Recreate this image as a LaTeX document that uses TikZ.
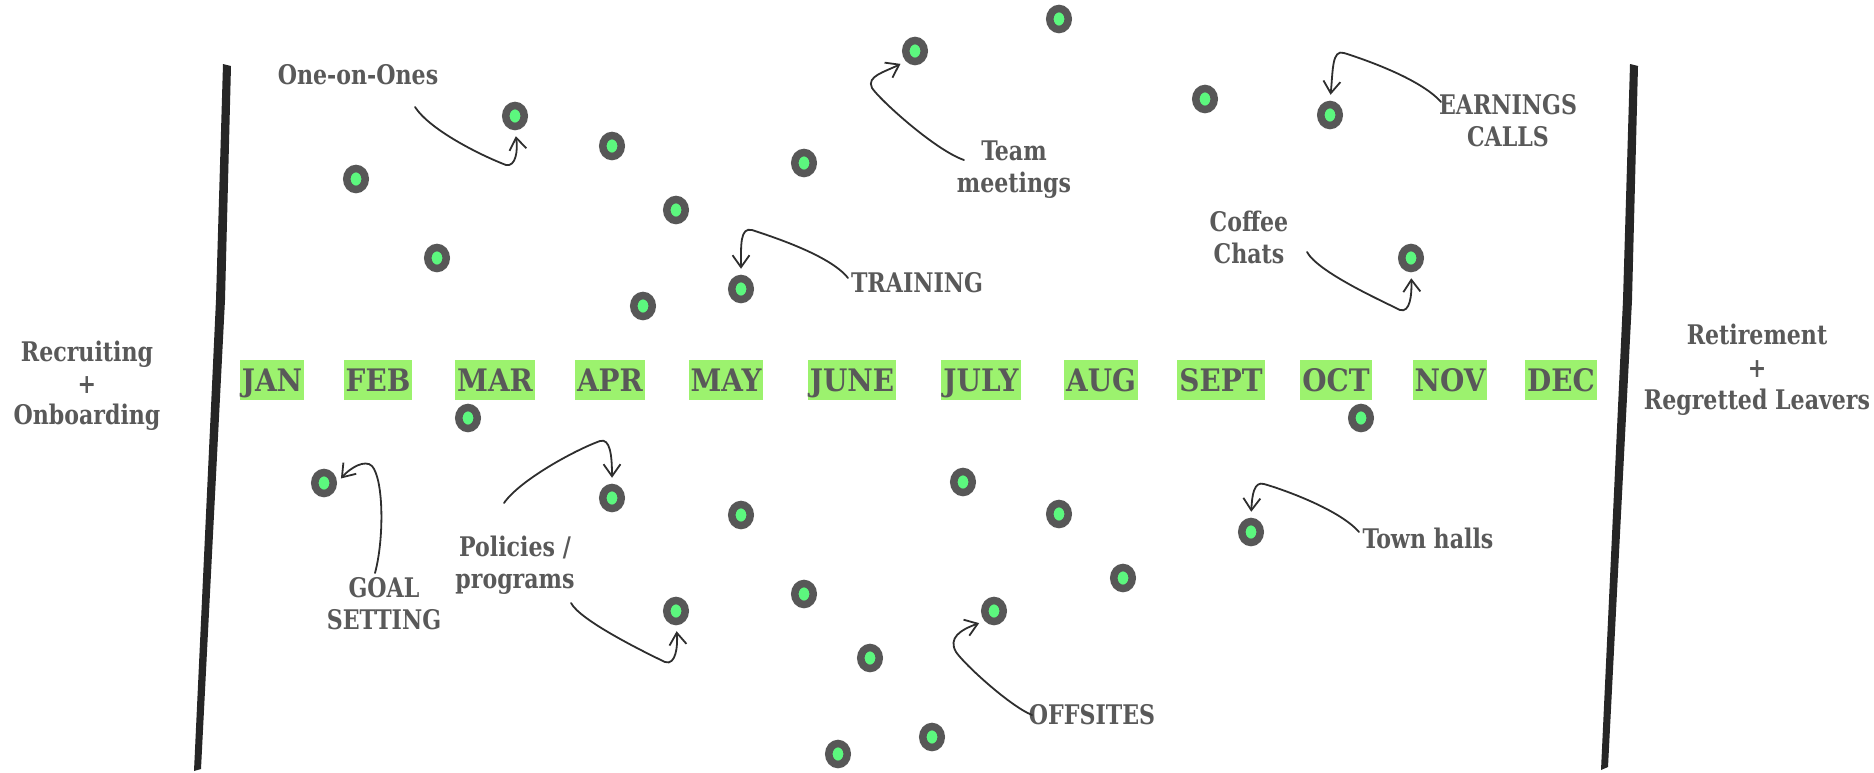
\documentclass[tikz,border=0pt]{standalone}
\usepackage{fontspec}
\newfontfamily\slabfont{DejaVu Serif Condensed Bold}
\newfontfamily\slabnarrow{DejaVu Serif Condensed Bold}[FakeStretch=0.91]
\usetikzlibrary{shapes.geometric,arrows.meta}
\definecolor{inkgray}{HTML}{595959}
\definecolor{boxgreen}{HTML}{9CF26E}
\definecolor{dotgreen}{HTML}{5CF77E}
\definecolor{ringgray}{HTML}{575757}
\definecolor{pencil}{HTML}{2E2E2E}
\tikzset{
  month/.style={fill=boxgreen, text=inkgray, font=\slabfont\fontsize{15.5}{18}\selectfont, inner xsep=1pt, inner ysep=0pt, text height=11.6pt, text depth=0pt, minimum height=20pt},
  eventdot/.style={ellipse, draw=ringgray, fill=dotgreen, line width=3.75pt, minimum width=9.25pt, minimum height=10.5pt, inner sep=0pt},
  lbl/.style={text=inkgray, font=\slabnarrow\fontsize{13.5}{16}\selectfont, align=center, inner sep=0pt},
  arrowline/.style={pencil, line width=0.9pt, line cap=round, -{Straight Barb[length=6pt,width=8.5pt]}, shorten >=3pt},
}
\begin{document}
\begin{tikzpicture}[x=0.5pt,y=-0.5pt]
\useasboundingbox (0,0) rectangle (1874,772);

% charcoal dividers
\fill[black!85] (223,64) -- (231,66) -- (225,300) -- (201,769) -- (194,771) -- (216,300) -- cycle;
\fill[black!85] (1630,64) -- (1638,66) -- (1632,300) -- (1608,767) -- (1601,770) -- (1623,300) -- cycle;

% side texts
\node[lbl, font=\slabnarrow\fontsize{13.5}{15.75}\selectfont] (recruit) at (87,386) {Recruiting\\+\\Onboarding};
\node[lbl, font=\slabnarrow\fontsize{13.5}{16.25}\selectfont] (retire) at (1757,370) {Retirement\\+\\Regretted Leavers};

% months
\foreach \m/\x in {JAN/272, FEB/378, MAR/495, APR/610, MAY/726, JUNE/852,
                   JULY/981, AUG/1101, SEPT/1221, OCT/1336, NOV/1450, DEC/1561}
  \node[month] (m\m) at (\x,380) {\m};

% events
\foreach \x/\y [count=\i] in {515/116, 356/179, 437/258, 612/146, 676/210, 643/306,
    741/289, 804/163, 915/51, 1059/19, 1205/99, 1330/115, 1411/258,
    468/418, 1361/418, 324/483, 612/498, 741/515, 963/482, 1059/514,
    1251/532, 1123/578, 804/594, 676/611, 994/611, 870/658, 932/737, 838/754}
  \node[eventdot] (d\i) at (\x,\y) {};

% labels
\node[lbl] (lblone) at (358,75) {One-on-Ones};
\node[lbl] (lblteam) at (1014,170) {Team\\meetings};
\node[lbl] (lbltrain) at (917,283) {TRAINING};
\node[lbl] (lblearn) at (1508,121) {EARNINGS\\CALLS};
\node[lbl] (lblcoffee) at (1249,237) {Coffee\\Chats};
\node[lbl] (lbltown) at (1428,538) {Town halls};
\node[lbl] (lblgoal) at (384,604) {GOAL\\SETTING};
\node[lbl] (lblpol) at (515,565) {Policies /\\programs};
\node[lbl] (lbloff) at (1092,715) {OFFSITES};

% pointers
\draw[arrowline] ([shift={(57,32)}]lblone.center) .. controls (430,130) and (480,155) .. (506,165)
  .. controls (516,167) and (518,150) .. (d1.south);
\draw[arrowline] ([shift={(-50,-10)}]lblteam.center) .. controls (935,150) and (880,100) .. (872,88)
  .. controls (866,76) and (885,72) .. (d9.south west);
\draw[arrowline] ([shift={(-69,-5)}]lbltrain.center) .. controls (830,255) and (770,236) .. (752,230)
  .. controls (740,227) and (741,245) .. (d7.north);
\draw[arrowline] ([shift={(-67,-19)}]lblearn.center) .. controls (1420,78) and (1360,58) .. (1344,53)
  .. controls (1332,49) and (1333,70) .. (d12.north);
\draw[arrowline] ([shift={(58,15)}]lblcoffee.center) .. controls (1318,272) and (1380,300) .. (1400,310)
  .. controls (1410,313) and (1412,295) .. (d13.south);
\draw[arrowline] ([shift={(-9,-31)}]lblgoal.center) .. controls (384,540) and (384,480) .. (372,466)
  .. controls (365,459) and (350,468) .. (d16.east);
\draw[arrowline] ([shift={(-11,-62)}]lblpol.center) .. controls (520,480) and (575,450) .. (600,441)
  .. controls (610,438) and (612,455) .. (d17.north);
\draw[arrowline] ([shift={(56,38)}]lblpol.center) .. controls (580,620) and (640,650) .. (665,662)
  .. controls (676,666) and (678,645) .. (d24.south);
\draw[arrowline] ([shift={(-60,0)}]lbloff.center) .. controls (1010,706) and (965,665) .. (956,652)
  .. controls (948,638) and (960,630) .. (d25.south west);
\draw[arrowline] ([shift={(-69,-6)}]lbltown.center) .. controls (1340,510) and (1285,490) .. (1264,484)
  .. controls (1254,481) and (1252,495) .. (d21.north);
\end{tikzpicture}
\end{document}
